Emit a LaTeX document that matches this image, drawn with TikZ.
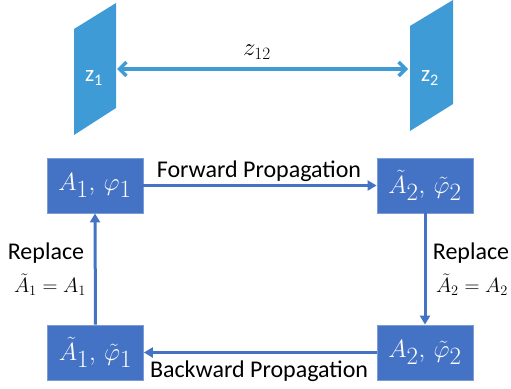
\documentclass[tikz,border=0pt]{standalone}
\usepackage{fontspec}
\setmainfont{Carlito}
\usetikzlibrary{arrows.meta}
\definecolor{plane}{HTML}{3F9BD5}
\definecolor{boxblue}{HTML}{4472C4}
\tikzset{
  stbox/.style={fill=boxblue, draw=boxblue!70!white, line width=0.8pt, minimum width=96pt, minimum height=55pt, inner sep=0pt, text=white, font=\fontsize{33}{36}\selectfont},
  flow/.style={draw=boxblue, line width=3pt, -{Triangle[length=9pt,width=10pt]}},
  lbl/.style={font=\fontsize{24}{28}\selectfont, inner sep=0pt},
  mlbl/.style={font=\fontsize{22}{26}\selectfont, inner sep=0pt}
}
\begin{document}
\begin{tikzpicture}[x=1pt,y=-1pt]
\useasboundingbox (0,0) rectangle (511,388);
% planes
\fill[plane] (74,29) -- (116,3) -- (116,108) -- (74,135) -- cycle;
\fill[plane] (410,26) -- (453,0) -- (453,104) -- (410,131) -- cycle;
\node[text=white, font=\fontsize{23}{26}\selectfont] (z1) at (94,78) {z\textsubscript{1}};
\node[text=white, font=\fontsize{23}{26}\selectfont] (z2) at (430,78) {z\textsubscript{2}};
\coordinate (p1) at (117,69);
\coordinate (p2) at (408,69);
\draw[plane, line width=3.5pt, {Straight Barb[length=7pt,width=14pt]}-{Straight Barb[length=7pt,width=14pt]}] (p1) -- (p2);
\node[font=\fontsize{23}{26}\selectfont] (z12) at (257,52) {$z_{12}$};
% boxes
\node[stbox] (a1) at (95,185.5) {$A_1,\,\varphi_1$};
\node[stbox] (a2t) at (425,185.5) {$\tilde A_2,\,\tilde\varphi_2$};
\node[stbox] (a1t) at (95.5,352.5) {$\tilde A_1,\,\tilde\varphi_1$};
\node[stbox] (a2) at (425,352.5) {$A_2,\,\tilde\varphi_2$};
% arrows
\draw[flow] (a1.east) -- (a2t.west);
\draw[flow] (a2t.south) -- (a2.north);
\draw[flow] (a2.west) -- (a1t.east);
\draw[flow] (a1t.north) -- (a1.south);
% labels
\node[lbl] (fw) at (259,171) {Forward Propagation};
\node[lbl] (bw) at (259,371) {Backward Propagation};
\node[lbl] (rl) at (46,253) {Replace};
\node[mlbl] (el) at (50,285) {$\tilde A_1 = A_1$};
\node[lbl] (rr) at (471,253) {Replace};
\node[mlbl] (er) at (472,285) {$\tilde A_2 = A_2$};
\end{tikzpicture}
\end{document}
